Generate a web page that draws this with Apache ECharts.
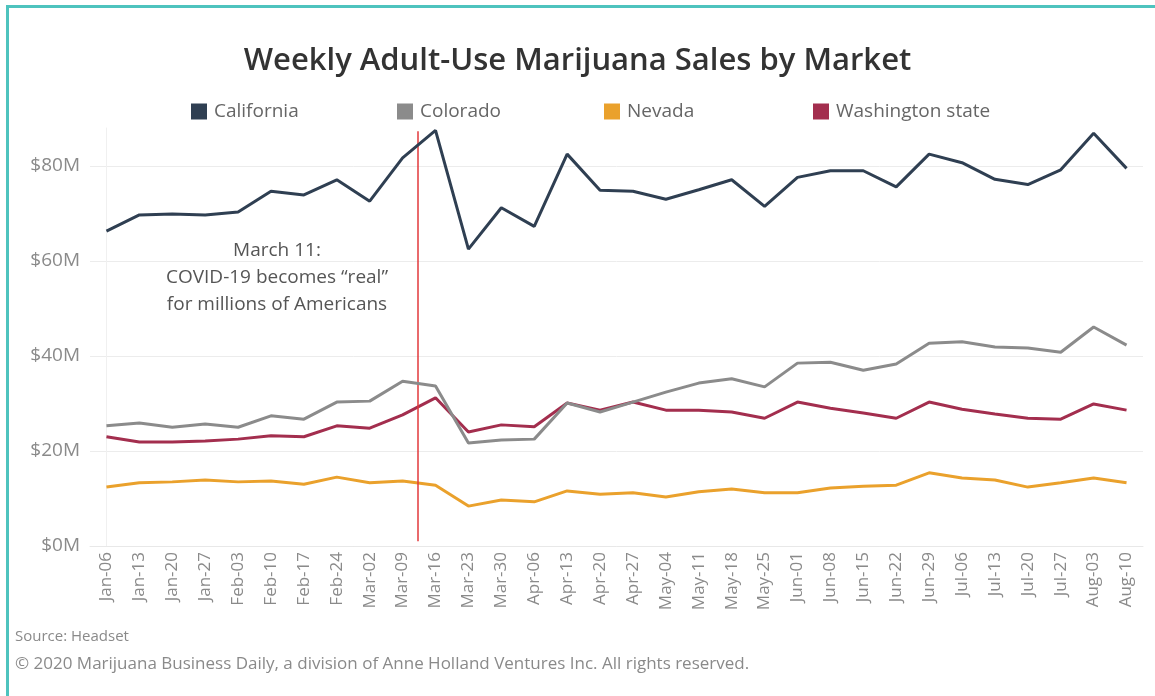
<!DOCTYPE html>
<html>
<head>
<meta charset="utf-8">
<title>Weekly Adult-Use Marijuana Sales by Market</title>
<script src="https://cdn.jsdelivr.net/npm/echarts@6/dist/echarts.min.js"></script>
<style>
  html, body { margin: 0; padding: 0; background: #fff; overflow: hidden; }
  #frame { position: absolute; left: 6px; top: 5px; width: 1200px; height: 720px; border: 3px solid #4ec3be; box-sizing: border-box; }
  #main { position: absolute; left: 0; top: 0; width: 1155px; height: 696px; }
</style>
</head>
<body>
<div id="frame"></div>
<div id="main"></div>
<script>
// weekly categories (2020)
var weeks = ['Jan-06', 'Jan-13', 'Jan-20', 'Jan-27', 'Feb-03', 'Feb-10', 'Feb-17', 'Feb-24',
  'Mar-02', 'Mar-09', 'Mar-16', 'Mar-23', 'Mar-30', 'Apr-06', 'Apr-13', 'Apr-20', 'Apr-27',
  'May-04', 'May-11', 'May-18', 'May-25', 'Jun-01', 'Jun-08', 'Jun-15', 'Jun-22', 'Jun-29',
  'Jul-06', 'Jul-13', 'Jul-20', 'Jul-27', 'Aug-03', 'Aug-10']

// sales in $M
var california = [66.3, 69.7, 69.9, 69.7, 70.3, 74.7, 73.9, 77.1, 72.6, 81.7, 87.5, 62.5, 71.2, 67.3, 82.5, 74.9,
  74.7, 73.0, 75.0, 77.1, 71.5, 77.6, 79.0, 79.0, 75.6, 82.5, 80.7, 77.2, 76.1, 79.2, 86.9, 79.5]
var colorado = [25.3, 25.9, 25.0, 25.7, 25.0, 27.4, 26.7, 30.3, 30.5, 34.7, 33.7, 21.7, 22.3, 22.5, 30.1, 28.2,
  30.3, 32.4, 34.3, 35.2, 33.5, 38.5, 38.7, 37.0, 38.3, 42.7, 43.0, 41.9, 41.7, 40.8, 46.1, 42.3]
var nevada = [12.4, 13.3, 13.5, 13.9, 13.5, 13.7, 13.0, 14.5, 13.3, 13.7, 12.8, 8.4, 9.7, 9.3, 11.6, 10.9,
  11.2, 10.3, 11.4, 12.0, 11.2, 11.2, 12.2, 12.6, 12.8, 15.4, 14.3, 13.9, 12.4, 13.3, 14.3, 13.3]
var washington = [23.0, 21.9, 21.9, 22.1, 22.5, 23.2, 23.0, 25.3, 24.8, 27.6, 31.2, 24.0, 25.5, 25.1, 30.1, 28.6,
  30.3, 28.6, 28.6, 28.2, 26.9, 30.3, 29.0, 28.0, 26.9, 30.3, 28.8, 27.8, 26.9, 26.7, 29.9, 28.6]

var seriesNames = ['California', 'Colorado', 'Nevada', 'Washington state']
var seriesColors = ['#2f3f52', '#8b8b8b', '#eaa12c', '#a32e4e']

// March 11 sits between the Mar-09 and Mar-16 weeks (index on the week axis)
var covidWeek = 9.45

var font = 'Open Sans'
var chart = echarts.init(document.getElementById('main'))

var legendLeft = [186, 392, 599, 808]
var legends = seriesNames.map(function (name, i) {
  return {
    data: [name],
    left: legendLeft[i],
    top: 97,
    icon: 'rect',
    itemWidth: 16,
    itemHeight: 16,
    itemGap: 6,
    selectedMode: false,
    textStyle: { color: '#666', fontSize: 19, fontFamily: font, padding: [0, 0, 0, 2] }
  }
})

var allData = [california, colorado, nevada, washington]
var lines = seriesNames.map(function (name, i) {
  return {
    name: name,
    type: 'line',
    data: allData[i],
    symbol: 'none',
    color: seriesColors[i],
    lineStyle: { width: 3, color: seriesColors[i] },
    z: 3 + (3 - i)
  }
})

lines.push({
  name: 'covid',
  type: 'line',
  xAxisIndex: 1,
  data: [],
  markLine: {
    silent: true,
    symbol: 'none',
    label: { show: false },
    lineStyle: { color: '#e2393b', width: 1.5, type: 'solid' },
    data: [[{ coord: [covidWeek, 1] }, { coord: [covidWeek, 87.3] }]]
  }
})

chart.setOption({
  backgroundColor: 'transparent',
  animation: false,
  title: {
    text: 'Weekly Adult-Use Marijuana Sales by Market',
    left: 'center',
    top: 41,
    textStyle: { color: '#333', fontSize: 31, fontWeight: 600, fontFamily: font }
  },
  legend: legends,
  grid: { left: 90, right: 12, top: 128, bottom: 150 },
  xAxis: [{
    type: 'category',
    data: weeks,
    boundaryGap: true,
    axisTick: { show: false },
    axisLine: { lineStyle: { color: '#e8e8e8' } },
    axisLabel: { rotate: 90, color: '#8a8a8a', fontSize: 17, fontFamily: font, margin: 6, interval: 0 }
  }, {
    type: 'value',
    min: -0.5,
    max: 31.5,
    show: false
  }],
  yAxis: {
    type: 'value',
    min: 0,
    max: 88,
    interval: 20,
    axisLine: { show: true, lineStyle: { color: '#f0f0f0' } },
    axisTick: { show: false },
    splitLine: { showMaxLine: false, lineStyle: { color: '#ececec' } },
    axisLabel: {
      showMaxLabel: false,
      color: '#8a8a8a',
      fontSize: 19,
      fontFamily: font,
      margin: 10,
      formatter: function (v) { return '$' + v + 'M' }
    }
  },
  graphic: [{
    type: 'text',
    x: 277,
    y: 237,
    style: {
      text: 'March 11:\nCOVID-19 becomes \u201Creal\u201D\nfor millions of Americans',
      align: 'center',
      verticalAlign: 'top',
      fill: '#555',
      font: '19px "Open Sans"',
      lineHeight: 27
    }
  }, {
    type: 'text',
    x: 15,
    y: 637,
    style: { text: 'Source: Headset', fill: '#8a8a8a', font: '15px "Open Sans"', verticalAlign: 'middle' }
  }, {
    type: 'text',
    x: 15,
    y: 664,
    style: {
      text: '\u00A9 2020 Marijuana Business Daily, a division of Anne Holland Ventures Inc. All rights reserved.',
      fill: '#8a8a8a',
      font: '17px "Open Sans"',
      verticalAlign: 'middle'
    }
  }],
  series: lines
})
</script>
</body>
</html>
